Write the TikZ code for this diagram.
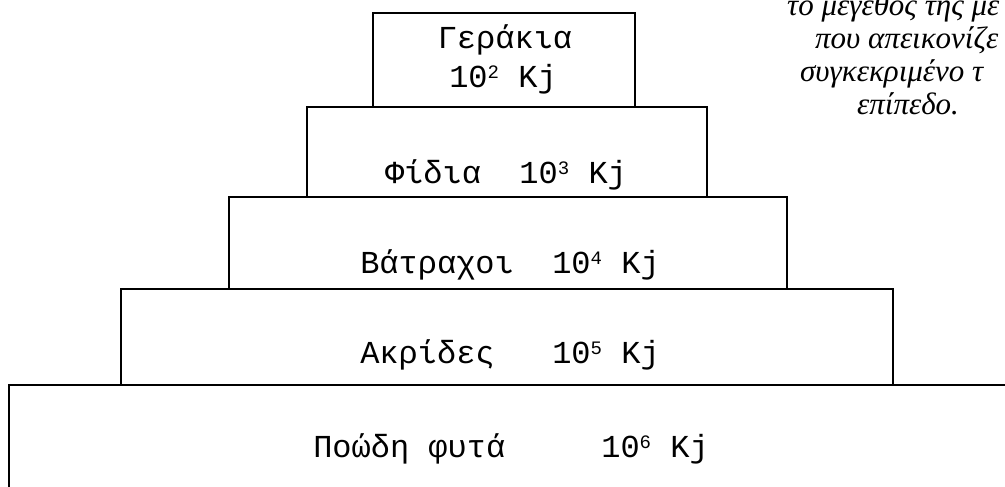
\documentclass[tikz,border=0pt]{standalone}
\usepackage{fontspec}
\setmainfont{Liberation Serif}
\newfontfamily\monofont{Liberation Mono}
\newcommand\pw[1]{\raisebox{9pt}{\fontsize{19}{19}\selectfont #1}}
\begin{document}
\begin{tikzpicture}[x=1pt,y=-1pt]
\tikzset{
  tier/.style={draw=black, line width=1.5pt, fill=white, inner sep=0pt, outer sep=0pt},
  lbl/.style={anchor=base, inner sep=0pt, font=\monofont\fontsize{32}{38}\selectfont},
  note/.style={anchor=base west, inner sep=0pt, font=\itshape\fontsize{31}{34}\selectfont}
}
\useasboundingbox (0,0) rectangle (1005,487);
\clip (0,0) rectangle (1005,487);
\fill[white] (0,0) rectangle (1005,487);
% tiers, bottom to top
\node[tier, minimum width=1001pt, minimum height=120pt] (b5) at (509.5,445) {};
\node[tier, minimum width=772pt, minimum height=96pt] (b4) at (507,337) {};
\node[tier, minimum width=558pt, minimum height=92pt] (b3) at (508,243) {};
\node[tier, minimum width=400pt, minimum height=90pt] (b2) at (507,152) {};
\node[tier, minimum width=262pt, minimum height=94pt] (b1) at (504,60) {};
% labels
\node[lbl] (t1a) at (505,49) {Γεράκια};
\node[lbl] (t1b) at (503,88) {10\pw{2} Kj};
\node[lbl] (t2) at (506,183) {Φίδια\ \ 10\pw{3} Kj};
\node[lbl] (t3) at (510,273) {Βάτραχοι\ \ 10\pw{4} Kj};
\node[lbl] (t4) at (510,363) {Ακρίδες\ \ \ 10\pw{5} Kj};
\node[lbl] (t5) at (511,457) {Ποώδη φυτά\ \ \ \ \ 10\pw{6} Kj};
% side note (clipped at the right edge)
\node[note] (n1) at (787,16) {το μέγεθος της με};
\node[note] (n2) at (815,49) {που απεικονίζε};
\node[note] (n3) at (800,82) {συγκεκριμένο τ};
\node[note] (n4) at (857,114) {επίπεδο.};
\end{tikzpicture}
\end{document}
